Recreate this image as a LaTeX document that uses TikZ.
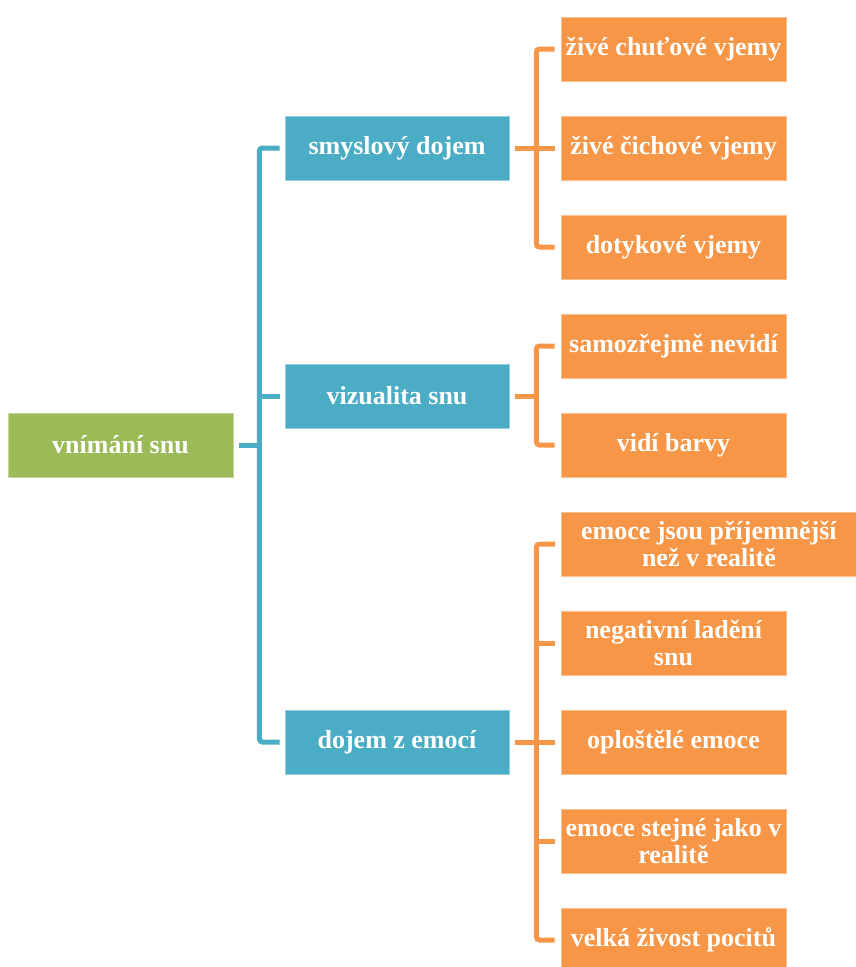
\documentclass[tikz,border=0pt]{standalone}
\usepackage{fontspec}
\setmainfont{Liberation Serif}
\usetikzlibrary{calc}
\definecolor{rootgreen}{HTML}{9BBB59}
\definecolor{midblue}{HTML}{4BACC6}
\definecolor{leaforange}{HTML}{F79646}
\begin{document}
\begin{tikzpicture}[x=1pt,y=-1pt,
  box/.style={rectangle, inner sep=0pt, minimum height=64, text=white,
    font=\fontsize{26}{27}\selectfont\bfseries, align=center, line width=0.8pt},
  rootbox/.style={box, fill=rootgreen, draw=rootgreen!60!white, minimum width=225},
  midbox/.style={box, fill=midblue, draw=midblue!60!white, minimum width=224},
  leafbox/.style={box, fill=leaforange, draw=leaforange!60!white, minimum width=225},
  wideleaf/.style={leafbox, minimum width=295},
  blueline/.style={draw=midblue, line width=5pt, rounded corners=3pt},
  orline/.style={draw=leaforange, line width=5pt, rounded corners=3pt}]
\useasboundingbox (0,0) rectangle (856,967);

% root
\node[rootbox] (root) at (120.5,445) {vnímání snu};

% second level
\node[midbox] (b1) at (397,148) {smyslový dojem};
\node[midbox] (b2) at (397,396) {vizualita snu};
\node[midbox] (b3) at (397,742) {dojem z emocí};

% leaves
\node[leafbox] (o11) at (673.5,49)  {živé chuťové vjemy};
\node[leafbox] (o12) at (673.5,148) {živé čichové vjemy};
\node[leafbox] (o13) at (673.5,247) {dotykové vjemy};
\node[leafbox] (o21) at (673.5,346) {samozřejmě nevidí};
\node[leafbox] (o22) at (673.5,445) {vidí barvy};
\node[wideleaf, anchor=west] (o31) at (561,544) {emoce jsou příjemnější\\než v realitě};
\node[leafbox] (o32) at (673.5,643) {negativní ladění\\snu};
\node[leafbox] (o33) at (673.5,742) {oploštělé emoce};
\node[leafbox] (o34) at (673.5,841) {emoce stejné jako v\\realitě};
\node[leafbox] (o35) at (673.5,940) {velká živost pocitů};

% junction points of the brackets
\coordinate (jb) at ($(root.east)+(26,0)$);
\coordinate (j1) at ($(b1.east)+(27,0)$);
\coordinate (j2) at ($(b2.east)+(27,0)$);
\coordinate (j3) at ($(b3.east)+(27,0)$);

% blue bracket
\draw[blueline] ([xshift=-5]b1.west) -| (jb) |- ([xshift=-5]b3.west);
\draw[blueline] ([xshift=-5]b2.west) -- (b2.west -| jb);
\draw[blueline] ([xshift=6]root.east) -- (jb);

% orange brackets
\draw[orline] ([xshift=-6]o11.west) -| (j1) |- ([xshift=-6]o13.west);
\draw[orline] ([xshift=-6]o12.west) -- (o12.west -| j1);
\draw[orline] ([xshift=6]b1.east) -- (j1);

\draw[orline] ([xshift=-6]o21.west) -| (j2) |- ([xshift=-6]o22.west);
\draw[orline] ([xshift=6]b2.east) -- (j2);

\draw[orline] ([xshift=-6]o31.west) -| (j3) |- ([xshift=-6]o35.west);
\draw[orline] ([xshift=-6]o32.west) -- (o32.west -| j3);
\draw[orline] ([xshift=-6]o33.west) -- (o33.west -| j3);
\draw[orline] ([xshift=-6]o34.west) -- (o34.west -| j3);
\draw[orline] ([xshift=6]b3.east) -- (j3);
\end{tikzpicture}
\end{document}
